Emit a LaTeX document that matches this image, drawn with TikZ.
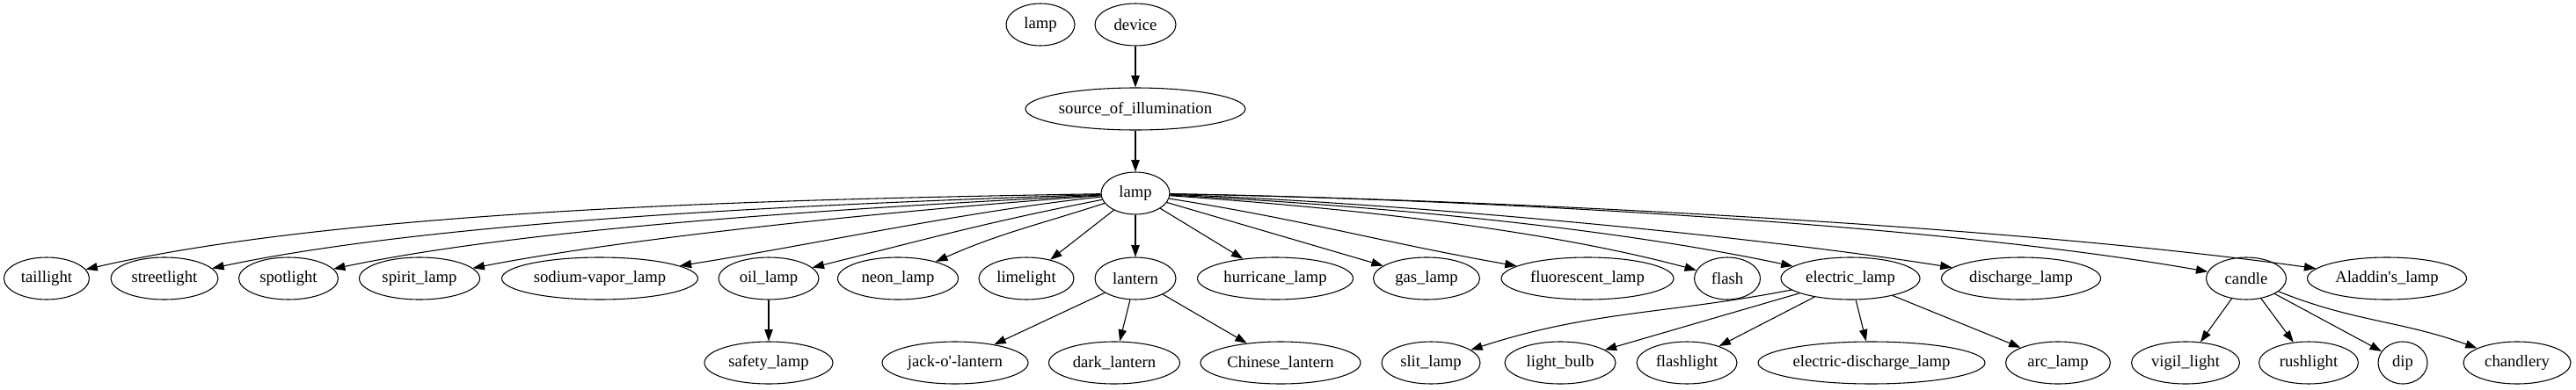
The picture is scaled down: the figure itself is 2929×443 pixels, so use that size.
\documentclass[tikz,border=0pt]{standalone}
\usepackage{fontspec}
\setmainfont{Liberation Serif}
\usetikzlibrary{shapes.geometric,arrows.meta}
\begin{document}
\begin{tikzpicture}[x=0.75pt,y=0.75pt,font=\fontsize{14}{16}\selectfont,
  nd/.style={draw,ellipse,inner sep=0pt,minimum height=36pt,line width=.8pt},
  ed/.style={draw,line width=.8pt,-{Triangle[length=10pt,width=7pt]}}]
\useasboundingbox (0,0) rectangle (2929,-443);
\node[nd,minimum width=58.5pt] (lampii) at (1183,-28) {lamp};
\node[nd,minimum width=69pt] (device) at (1291,-28) {device};
\node[nd,minimum width=187.5pt] (source) at (1291,-124) {source\_of\_illumination};
\node[nd,minimum width=58.5pt] (lamp) at (1291,-220) {lamp};
\node[nd,minimum width=72.75pt] (taillight) at (53,-317) {taillight};
\node[nd,minimum width=91.5pt] (streetlight) at (187,-317) {streetlight};
\node[nd,minimum width=84.75pt] (spotlight) at (328,-317) {spotlight};
\node[nd,minimum width=102.75pt] (spirit) at (477,-317) {spirit\_lamp};
\node[nd,minimum width=167.25pt] (sodium) at (682,-317) {sodium-vapor\_lamp};
\node[nd,minimum width=85.5pt] (oil) at (874,-317) {oil\_lamp};
\node[nd,minimum width=102.75pt] (neon) at (1021,-317) {neon\_lamp};
\node[nd,minimum width=81pt] (limelight) at (1167,-317) {limelight};
\node[nd,minimum width=69pt] (lantern) at (1291,-317) {lantern};
\node[nd,minimum width=132.75pt] (hurricane) at (1450,-317) {hurricane\_lamp};
\node[nd,minimum width=90.75pt] (gas) at (1622,-317) {gas\_lamp};
\node[nd,minimum width=147pt] (fluorescent) at (1805,-317) {fluorescent\_lamp};
\node[nd,minimum width=56.25pt] (flash) at (1964,-317) {flash};
\node[nd,minimum width=118.5pt] (electric) at (2104,-317) {electric\_lamp};
\node[nd,minimum width=135.75pt] (discharge) at (2298,-317) {discharge\_lamp};
\node[nd,minimum width=68.25pt] (candle) at (2554,-317) {candle};
\node[nd,minimum width=135.75pt] (aladdin) at (2714,-317) {Aladdin\textquotesingle s\_lamp};
\node[nd,minimum width=109.5pt] (safety) at (874,-413) {safety\_lamp};
\node[nd,minimum width=124.5pt] (jack) at (1086,-413) {jack-o\textquotesingle-lantern};
\node[nd,minimum width=111.75pt] (dark) at (1267,-413) {dark\_lantern};
\node[nd,minimum width=136.5pt] (chinese) at (1456,-413) {Chinese\_lantern};
\node[nd,minimum width=84pt] (slit) at (1627,-413) {slit\_lamp};
\node[nd,minimum width=94.5pt] (bulb) at (1774,-413) {light\_bulb};
\node[nd,minimum width=85.5pt] (flashlight) at (1918,-413) {flashlight};
\node[nd,minimum width=193.5pt] (edischarge) at (2128,-413) {electric-discharge\_lamp};
\node[nd,minimum width=89.25pt] (arc) at (2340,-413) {arc\_lamp};
\node[nd,minimum width=92.25pt] (vigil) at (2485,-413) {vigil\_light};
\node[nd,minimum width=84.75pt] (rushlight) at (2625,-413) {rushlight};
\node[nd,minimum width=42pt] (dip) at (2732,-413) {dip};
\node[nd,minimum width=91.5pt] (chandlery) at (2862,-413) {chandlery};
\draw[ed] (device) -- (source);
\draw[ed] (source) -- (lamp);
\draw[ed] (lamp) to[out=181,in=13,looseness=.7] (taillight);
\draw[ed] (lamp) to[out=182,in=12,looseness=.7] (streetlight);
\draw[ed] (lamp) to[out=183,in=12,looseness=.7] (spotlight);
\draw[ed] (lamp) to[out=184,in=11,looseness=.7] (spirit);
\draw[ed] (lamp) to[out=186,in=9,looseness=.8] (sodium);
\draw[ed] (lamp) to[out=191,in=14] (oil);
\draw[ed] (lamp) to[out=198,in=24] (neon);
\draw[ed] (lamp) -- (limelight);
\draw[ed] (lamp) -- (lantern);
\draw[ed] (lamp) -- (hurricane);
\draw[ed] (lamp) -- (gas);
\draw[ed] (lamp) to[out=-9,in=170] (fluorescent);
\draw[ed] (lamp) to[out=-4,in=165,looseness=.8] (flash);
\draw[ed] (lamp) to[out=-3,in=168,looseness=.8] (electric);
\draw[ed] (lamp) to[out=-2,in=171,looseness=.7] (discharge);
\draw[ed] (lamp) to[out=-1,in=170,looseness=.7] (candle);
\draw[ed] (lamp) to[out=-1,in=172,looseness=.7] (aladdin);
\draw[ed] (oil) -- (safety);
\draw[ed] (lantern) -- (jack);
\draw[ed] (lantern) -- (dark);
\draw[ed] (lantern) -- (chinese);
\draw[ed] (electric) to[out=191,in=18] (slit);
\draw[ed] (electric) -- (bulb);
\draw[ed] (electric) -- (flashlight);
\draw[ed] (electric) -- (edischarge);
\draw[ed] (electric) -- (arc);
\draw[ed] (candle) -- (vigil);
\draw[ed] (candle) -- (rushlight);
\draw[ed] (candle) -- (dip);
\draw[ed] (candle) to[out=-22,in=160] (chandlery);
\end{tikzpicture}
\end{document}
